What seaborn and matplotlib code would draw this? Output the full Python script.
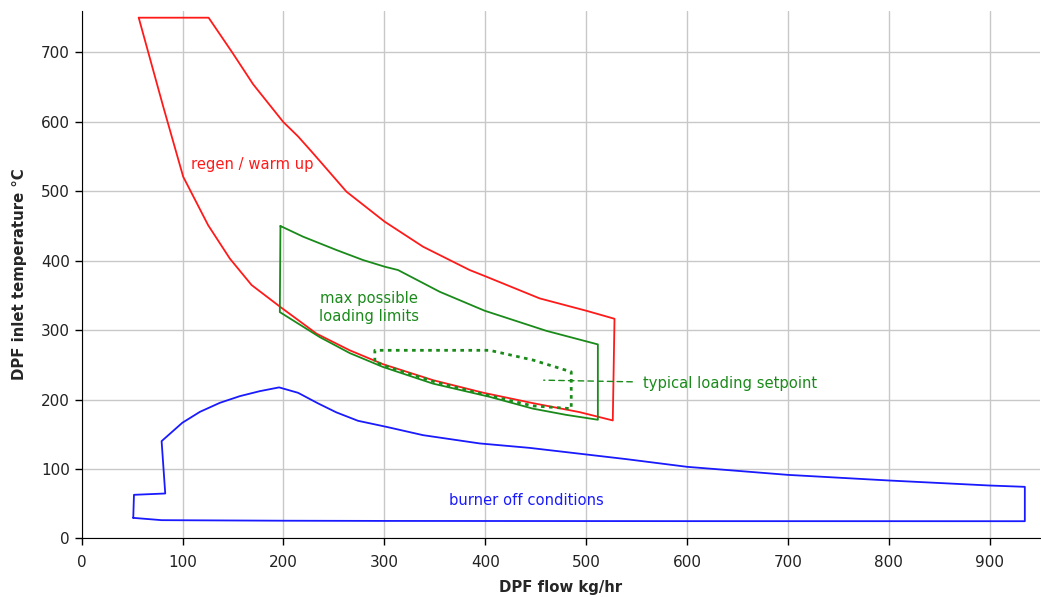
import matplotlib
matplotlib.use("Agg")
import matplotlib.pyplot as plt
import seaborn as sns

# regen / warm up envelope (closed outline)
regen_x = [56.5, 125.8, 149.2, 170, 199.7, 214.5, 228, 240, 262.5, 300.4, 338.4, 354.9, 384.6, 399.5,
           453.9, 500.2, 528.2,
           526.5, 493.5, 447, 397.8, 348.3, 298.7, 265.7, 232.8, 196.4, 168.4, 146.9, 125.4, 100.6, 80.8, 56.5]
regen_y = [750, 750, 700, 654, 600, 579, 557, 537, 499.4, 456.2, 420.2, 408.2, 386.6, 378,
           345.8, 328, 316.4,
           170, 182, 195, 210, 228, 251, 271, 295, 334, 365, 403, 451, 521, 622, 750]

# max possible loading limits
load_x = [197, 219.5, 252.6, 278.9, 300.4, 313.6, 354.9, 399.5, 460.5, 511.7,
          511.7, 480.4, 447.3, 404.4, 348.3, 298.7, 265.7, 236, 196.4, 197]
load_y = [450, 434.6, 415.4, 401, 391.4, 386.6, 355.3, 328, 299.1, 279.5,
          171, 178, 187, 204, 223, 247, 267, 290, 326, 450]

# typical loading setpoint (dotted)
setp_x = [290.6, 290.6, 404.4, 447.3, 485.3, 485.3, 447, 400, 350, 300, 290.6]
setp_y = [255, 271, 271, 257, 240, 187, 191, 207, 225.5, 249, 255]

# burner off conditions
burner_x = [51.1, 51.8, 82.8, 79.2, 99.7, 117.2, 137, 156.8, 176.6, 195.7, 214.5, 234.4, 252.5, 273.9,
            302, 338.4, 394.5, 444, 539.8, 600.2, 700.3, 800.6, 900, 935,
            935, 600, 300, 200, 79.2, 51.1]
burner_y = [29.7, 62.9, 64.8, 140.2, 166.6, 182.4, 195.4, 205, 212.2, 217.6, 209.8, 194.5, 181.6, 169.5,
            160.8, 148.8, 136.9, 130.5, 114.3, 103.2, 91.6, 83.5, 76.3, 74.4,
            24.9, 25, 25.3, 25.6, 26.4, 29.7]

# annotation anchor for the setpoint label
setp_pointer = (458, 228)
setp_label_pos = (556, 223)

RED = "#ff1a1a"
GREEN = "#1a8a1a"
BLUE = "#1a1aff"

sns.set_style("ticks")
plt.rcParams["font.family"] = ["DejaVu Sans"]

fig, ax = plt.subplots(figsize=(10.41, 5.97), dpi=100)
fig.subplots_adjust(left=0.0785, right=0.999, bottom=0.098, top=0.982)

sns.lineplot(x=regen_x, y=regen_y, sort=False, estimator=None, color=RED, linewidth=1.3, ax=ax)
sns.lineplot(x=load_x, y=load_y, sort=False, estimator=None, color=GREEN, linewidth=1.3, ax=ax)
sns.lineplot(x=setp_x, y=setp_y, sort=False, estimator=None, color=GREEN, linewidth=2,
             linestyle=(0, (1.3, 1.6)), ax=ax)
sns.lineplot(x=burner_x, y=burner_y, sort=False, estimator=None, color=BLUE, linewidth=1.3, ax=ax)

ax.text(108, 539, "regen / warm up", color=RED, fontsize=10.6, ha="left", va="center")
ax.text(285, 333, "max possible\nloading limits", color=GREEN, fontsize=10.6,
        ha="center", va="center", multialignment="center", linespacing=1.25)
ax.text(440.5, 55, "burner off conditions", color=BLUE, fontsize=10.6, ha="center", va="center")
ax.annotate("typical loading setpoint", xy=setp_pointer, xytext=setp_label_pos,
            color=GREEN, fontsize=10.6, ha="left", va="center",
            arrowprops=dict(arrowstyle="-", linestyle=(0, (4, 3)), color=GREEN,
                            linewidth=1.0, shrinkA=5, shrinkB=0))

ax.set_xlim(0, 950)
ax.set_ylim(0, 760)
ax.set_xticks(range(0, 1000, 100))
ax.set_yticks(range(0, 800, 100))
ax.grid(True, color="#c8c8c8", linewidth=1)
ax.set_axisbelow(True)
sns.despine(ax=ax)
ax.spines["left"].set_color("black")
ax.spines["bottom"].set_color("black")
ax.tick_params(axis="both", colors="black", labelsize=11, length=5, width=1, direction="out")
ax.tick_params(axis="both", labelcolor="#222222")
ax.tick_params(axis="x", pad=7)

ax.set_xlabel("DPF flow kg/hr", fontsize=10.7, fontweight="bold", labelpad=7)
ax.set_ylabel("DPF inlet temperature °C", fontsize=10.7, fontweight="bold", labelpad=10)

fig.savefig("out.png", dpi=100)
